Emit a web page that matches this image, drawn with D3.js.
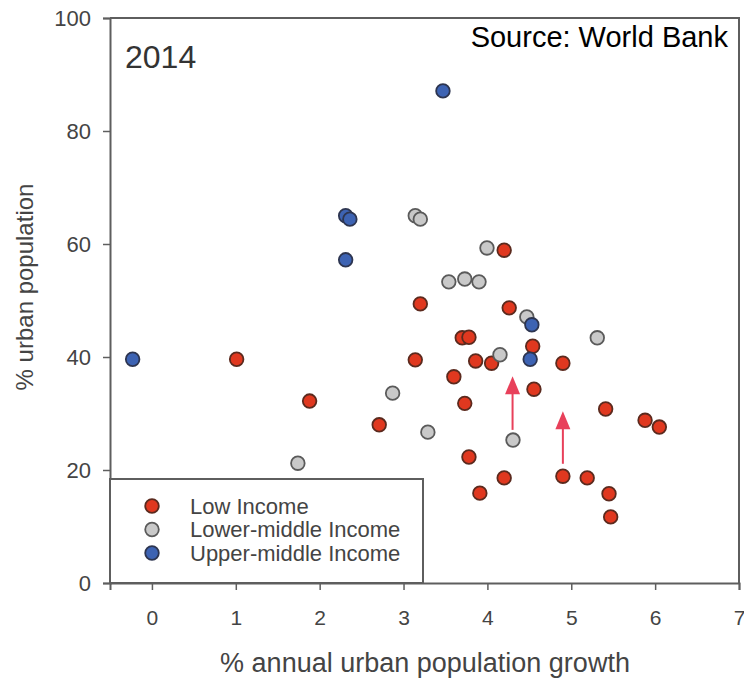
<!DOCTYPE html>
<html>
<head>
<meta charset="utf-8">
<script src="https://cdn.jsdelivr.net/npm/d3@7"></script>
<style>
  html, body { margin: 0; padding: 0; background: #fff; }
  svg { display: block; font-family: "Liberation Sans", Arial, sans-serif; }
</style>
</head>
<body>
<svg id="chart" width="744" height="680"></svg>
<script>
// Urban population share vs. annual urban population growth, 2014
const lowIncome = [
  [4.20, 58.9], [3.20, 49.4], [4.26, 48.7], [3.70, 43.4], [3.78, 43.5],
  [4.54, 41.9], [4.90, 38.9], [3.14, 39.5], [3.86, 39.3], [4.05, 38.9],
  [1.01, 39.6], [3.60, 36.5], [4.555, 34.3], [3.73, 31.8], [5.41, 30.8],
  [5.88, 28.8], [6.05, 27.6], [1.88, 32.2], [2.71, 28.0], [3.78, 22.3],
  [4.20, 18.6], [4.90, 18.9], [5.19, 18.6], [3.91, 15.9], [5.45, 15.8],
  [5.47, 11.7]
];
const lowerMiddleIncome = [
  [3.14, 65.0], [3.20, 64.4], [3.995, 59.3], [3.54, 53.3], [3.73, 53.8],
  [3.90, 53.3], [4.47, 47.1], [5.31, 43.4], [4.15, 40.4], [2.87, 33.6],
  [3.29, 26.7], [4.305, 25.3], [1.74, 21.2]
];
const upperMiddleIncome = [
  [3.47, 87.1], [2.31, 65.0], [2.36, 64.4], [2.31, 57.2], [-0.23, 39.6],
  [4.53, 45.7], [4.51, 39.6]
];
// arrows: [x, from y, to y]
const arrows = [
  [4.30, 27.1, 36.6],
  [4.90, 21.1, 30.4]
];
const xTicks = [0, 1, 2, 3, 4, 5, 6, 7];
const yTicks = [0, 20, 40, 60, 80, 100];
const seriesNames = ["Low Income", "Lower-middle Income", "Upper-middle Income"];
const seriesFill = ["#e0381f", "#c9c9c9", "#3d63b3"];
const seriesStroke = ["#5b2a1e", "#5a5a5a", "#2d3550"];

const svg = d3.select("#chart");
const x = d3.scaleLinear().domain([-0.5, 7]).range([110, 739]);
const y = d3.scaleLinear().domain([0, 100]).range([583, 18]);

const axisColor = "#5e5e5e";
const textColor = "#444";

// frame (top and right)
svg.append("path")
  .attr("d", `M${x(-0.5)},${y(100)}H${x(7)}V${y(0)}`)
  .attr("fill", "none").attr("stroke", axisColor).attr("stroke-width", 2);

// axes
const xAxis = svg.append("g").attr("transform", `translate(0,${y(0)})`)
  .call(d3.axisBottom(x).tickValues(xTicks).tickSize(7).tickPadding(20).tickFormat(d3.format("d")));
const yAxis = svg.append("g").attr("transform", `translate(${x(-0.5)},0)`)
  .call(d3.axisLeft(y).tickValues(yTicks).tickSize(7).tickPadding(12).tickFormat(d3.format("d")));
[xAxis, yAxis].forEach(g => {
  g.select(".domain").attr("stroke", axisColor).attr("stroke-width", 2);
  g.selectAll(".tick line").attr("stroke", axisColor).attr("stroke-width", 1.5);
  g.selectAll(".tick text").attr("fill", textColor)
    .attr("font-family", "Liberation Sans, Arial, sans-serif");
});
xAxis.selectAll(".tick text").attr("font-size", 21);
yAxis.selectAll(".tick text").attr("font-size", 22).attr("dy", "0.36em");

// axis titles
svg.append("text")
  .attr("x", 425).attr("y", 672)
  .attr("text-anchor", "middle").attr("font-size", 27).attr("fill", textColor)
  .text("% annual urban population growth");
svg.append("text")
  .attr("transform", "translate(33,287) rotate(-90)")
  .attr("text-anchor", "middle").attr("font-size", 24).attr("fill", textColor)
  .text("% urban population");

// annotations
svg.append("text").attr("x", 125).attr("y", 68)
  .attr("font-size", 32).attr("fill", "#333").text("2014");
svg.append("text").attr("x", 728).attr("y", 47)
  .attr("text-anchor", "end").attr("font-size", 29).attr("fill", "#000")
  .text("Source: World Bank");

// points
const groups = [lowIncome, lowerMiddleIncome, upperMiddleIncome];
groups.forEach((data, i) => {
  svg.append("g").selectAll("circle").data(data).join("circle")
    .attr("cx", d => x(d[0])).attr("cy", d => y(d[1])).attr("r", 6.8)
    .attr("fill", seriesFill[i]).attr("stroke", seriesStroke[i]).attr("stroke-width", 1.8);
});

// arrows
const arrowColor = "#e8405a";
const ag = svg.append("g");
arrows.forEach(a => {
  const x0 = x(a[0]), yb = y(a[1]), yt = y(a[2]);
  ag.append("line").attr("x1", x0).attr("x2", x0).attr("y1", yb).attr("y2", yt + 12)
    .attr("stroke", arrowColor).attr("stroke-width", 2);
  ag.append("path")
    .attr("d", `M${x0},${yt}L${x0 - 7.5},${yt + 18}L${x0 + 7.5},${yt + 18}Z`)
    .attr("fill", arrowColor);
});

// legend
const legend = svg.append("g");
legend.append("rect")
  .attr("x", x(-0.5)).attr("y", 479).attr("width", 423 - x(-0.5)).attr("height", y(0) - 479)
  .attr("fill", "#fff").attr("stroke", axisColor).attr("stroke-width", 2);
seriesNames.forEach((name, i) => {
  const ly = 506 + i * 23.5;
  legend.append("circle").attr("cx", 152).attr("cy", ly).attr("r", 6.8)
    .attr("fill", seriesFill[i]).attr("stroke", seriesStroke[i]).attr("stroke-width", 1.8);
  legend.append("text").attr("x", 190).attr("y", ly + 7.5)
    .attr("font-size", 22).attr("fill", textColor).text(name);
});
</script>
</body>
</html>
